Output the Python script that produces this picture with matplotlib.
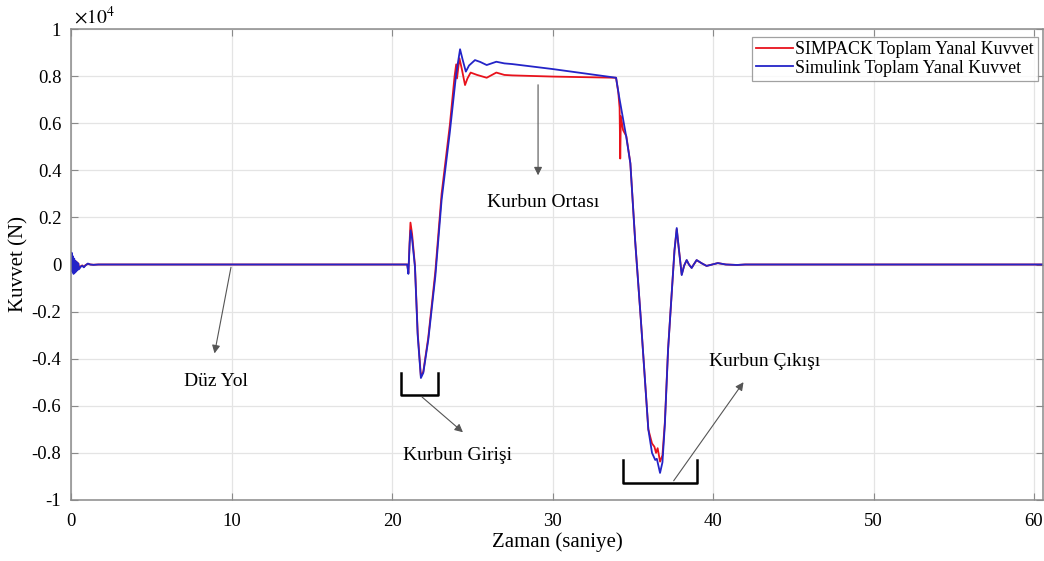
import matplotlib
matplotlib.use('Agg')
import matplotlib.pyplot as plt
from matplotlib.ticker import FuncFormatter

plt.rcParams['font.family'] = ['Liberation Serif', 'DejaVu Serif']
plt.rcParams['mathtext.fontset'] = 'stix'
plt.rcParams['axes.unicode_minus'] = False

# SIMPACK (red) - time [s], lateral force [N]
t_simpack = [0, 0.04, 0.08, 0.12, 0.16, 0.2, 0.24, 0.28, 0.32, 0.36, 0.4, 0.45, 0.5, 0.6, 0.7,
             0.8, 0.9, 1.05, 1.2, 1.4, 1.7, 2.2,
             20.95, 21.02, 21.1, 21.15, 21.25, 21.43, 21.6, 21.8, 21.95, 22.26, 22.7, 23.09,
             23.6, 23.9, 24.0, 24.05, 24.2, 24.35, 24.55, 24.7, 24.9, 25.3, 25.9, 26.5, 27.0,
             27.5, 30.0, 33.96, 34.1, 34.18, 34.22, 34.26, 34.4, 34.6, 34.85, 35.15, 35.5,
             35.97, 36.2, 36.35, 36.45, 36.55, 36.7, 36.85, 37.0, 37.2, 37.4, 37.6, 37.74,
             37.85, 38.05, 38.2, 38.36, 38.5, 38.67, 38.8, 38.98, 39.3, 39.6, 40.3, 40.8,
             41.5, 42.0, 60.6]
f_simpack = [0, 450, -250, 300, -350, 200, -300, 150, -250, 100, -200, 50, -150, -80, -40,
             -100, -30, 30, 0, -10, 0, 0,
             0, -350, 1000, 1780, 1300, -50, -2900, -4750, -4550, -3100, -300, 3000,
             5900, 8000, 8500, 7900, 8760, 8300, 7620, 7900, 8150, 8050, 7930, 8150, 8050,
             8030, 7980, 7930, 7300, 6650, 4500, 6300, 5700, 5450, 4300, 1000, -2300,
             -7000, -7600, -7740, -8000, -7800, -8370, -8100, -6700, -3600, -1500, 600, 1500,
             800, -420, -50, 180, 0, -140, 0, 180, 50, -60, 60, 0,
             -20, 0, 0]

# Simulink (blue)
t_simulink = [0, 0.04, 0.08, 0.12, 0.16, 0.2, 0.24, 0.28, 0.32, 0.36, 0.4, 0.45, 0.5, 0.6, 0.7,
              0.8, 0.9, 1.05, 1.2, 1.4, 1.7, 2.2,
              20.95, 21.02, 21.1, 21.16, 21.25, 21.43, 21.6, 21.8, 21.95, 22.26, 22.7, 23.09,
              23.6, 24.0, 24.24, 24.4, 24.6, 24.8, 25.17, 25.5, 25.9, 26.5, 27.0, 27.5, 30.0,
              33.96, 34.15, 34.6, 34.85, 35.15, 35.5, 35.97, 36.2, 36.4, 36.5, 36.7, 36.85,
              37.0, 37.2, 37.4, 37.6, 37.74, 37.85, 38.05, 38.2, 38.36, 38.5, 38.67, 38.8,
              38.98, 39.3, 39.6, 40.3, 40.8, 41.5, 42.0, 60.6]
f_simulink = [0, 500, -300, 350, -400, 250, -350, 150, -300, 100, -250, 50, -200, -100, -50,
              -120, -40, 40, 0, -15, 0, 0,
              0, -400, 900, 1450, 1100, -100, -3000, -4820, -4600, -3200, -500, 2740,
              5600, 8100, 9140, 8700, 8190, 8450, 8680, 8600, 8470, 8610, 8540, 8510, 8300,
              7930, 7130, 5400, 4300, 1000, -2300, -7000, -8000, -8300, -8250, -8850, -8400,
              -6800, -3630, -1500, 600, 1550, 800, -450, -50, 190, 0, -150, 0,
              190, 50, -60, 60, 0, -20, 0, 0]

x_ticks = [0, 10, 20, 30, 40, 50, 60]
y_ticks = [-1, -0.8, -0.6, -0.4, -0.2, 0, 0.2, 0.4, 0.6, 0.8, 1]

fig = plt.figure(figsize=(10.44, 5.61), dpi=100)
ax = fig.add_axes([71/1044, 1-500/561, 972/1044, 471/561])

ax.plot(t_simpack, [v/1e4 for v in f_simpack], color='#e8121c', lw=1.3,
        label='SIMPACK Toplam Yanal Kuvvet')
ax.plot(t_simulink, [v/1e4 for v in f_simulink], color='#2424c8', lw=1.3,
        label='Simulink Toplam Yanal Kuvvet')

ax.set_xlim(0, 60.56)
ax.set_ylim(-1, 1)
ax.set_xticks(x_ticks)
ax.set_yticks(y_ticks)
ax.yaxis.set_major_formatter(FuncFormatter(lambda v, p: '%g' % round(v, 2)))
ax.grid(True, color='#e4e4e4', lw=0.9)
ax.set_axisbelow(True)
for s in ax.spines.values():
    s.set_color('#8a8a8a')
    s.set_linewidth(1.1)
ax.tick_params(direction='in', length=5, color='#8a8a8a', labelsize=13.5,
               top=True, right=True)
ax.tick_params(axis='x', pad=9)
ax.tick_params(axis='y', pad=7)
ax.set_xlabel('Zaman (saniye)', fontsize=15, labelpad=2)
ax.set_ylabel('Kuvvet (N)', fontsize=15, labelpad=2)
ax.text(0.003, 1.003, r'$\times10^{4}$', transform=ax.transAxes, fontsize=14,
        ha='left', va='bottom')

leg = ax.legend(loc='upper right', bbox_to_anchor=(0.9985, 0.99), fontsize=12.9,
                frameon=True, fancybox=False, handlelength=2.1, handletextpad=0.12,
                borderpad=0.22, labelspacing=0.08, borderaxespad=0.2)
leg.get_frame().set_edgecolor('#8a8a8a')
leg.get_frame().set_linewidth(0.9)

arrow = dict(arrowstyle='-|>', color='#555555', lw=0.8, mutation_scale=12)

# annotations
ax.annotate('', xy=(8.91, -0.389), xytext=(10, 0), arrowprops=arrow)
ax.text(9.0, -0.495, 'Düz Yol', fontsize=14, ha='center', va='center')

ax.plot([20.56, 20.56, 22.87, 22.87], [-0.46, -0.555, -0.555, -0.46], color='k', lw=1.8)
ax.annotate('', xy=(24.55, -0.72), xytext=(21.74, -0.555), arrowprops=arrow)
ax.text(24.05, -0.81, 'Kurbun Girişi', fontsize=14, ha='center', va='center')

ax.annotate('', xy=(29.1, 0.367), xytext=(29.1, 0.775), arrowprops=arrow)
ax.text(29.4, 0.265, 'Kurbun Ortası', fontsize=14, ha='center', va='center')

ax.plot([34.37, 34.37, 38.98, 38.98], [-0.83, -0.928, -0.928, -0.83], color='k', lw=1.8)
ax.annotate('', xy=(42.0, -0.49), xytext=(37.45, -0.928), arrowprops=arrow)
ax.text(43.24, -0.41, 'Kurbun Çıkışı', fontsize=14, ha='center', va='center')

fig.savefig('out.png', dpi=100)
